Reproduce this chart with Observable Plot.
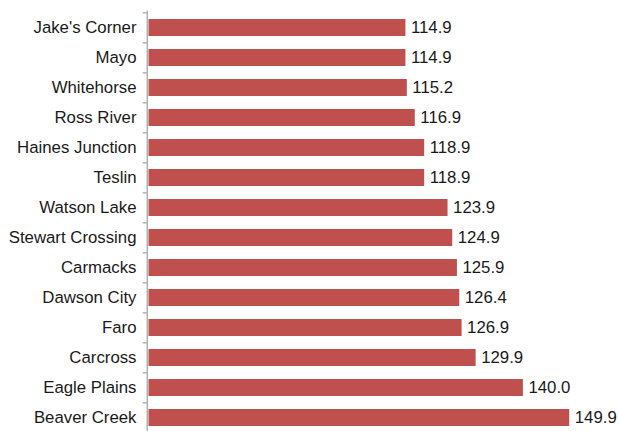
<!DOCTYPE html>
<html>
<head>
<meta charset="utf-8">
<script src="https://cdn.jsdelivr.net/npm/d3@7"></script>
<script src="https://cdn.jsdelivr.net/npm/@observablehq/plot@0.6"></script>
<style>
  html, body { margin: 0; padding: 0; background: #fff; overflow: hidden; }
</style>
</head>
<body>
<div id="chart"></div>
<script>
const communities = ["Jake's Corner", "Mayo", "Whitehorse", "Ross River", "Haines Junction", "Teslin", "Watson Lake", "Stewart Crossing", "Carmacks", "Dawson City", "Faro", "Carcross", "Eagle Plains", "Beaver Creek"];
const prices = [114.9, 114.9, 115.2, 116.9, 118.9, 118.9, 123.9, 124.9, 125.9, 126.4, 126.9, 129.9, 140.0, 149.9];
const xDomain = [60, 160];

const data = communities.map((c, i) => ({community: c, price: prices[i]}));

const font = "'Liberation Sans', Arial, Helvetica, sans-serif";
const H = 435, mTop = 10.7, mBottom = 0.8;
const step = (H - mTop - mBottom) / communities.length;
const fs = 16.8;

const chart = Plot.plot({
  width: 619,
  height: H,
  marginTop: mTop,
  marginBottom: mBottom,
  marginLeft: 148.5,
  marginRight: 2.5,
  style: {fontFamily: font, fontSize: fs + "px", color: "#1a1a1a", background: "#fff"},
  x: {domain: xDomain, axis: null},
  y: {domain: communities, paddingInner: 0.43, paddingOuter: 0.215, axis: null, label: null},
  marks: [
    Plot.barX(data, {x1: xDomain[0], x2: "price", y: "community", fill: "#c0504d"}),
    Plot.axisY({tickSize: 0, tickPadding: 12.5, fontSize: fs, fill: "#1a1a1a", label: null}),
    Plot.axisY({tickSize: 4, tickFormat: () => "", label: null, dy: -step / 2, dx: -1.8, stroke: "#8c8c8c"}),
    Plot.ruleX([xDomain[0]], {dx: -1.8, stroke: "#8c8c8c", strokeWidth: 1}),
    Plot.text(data, {x: "price", y: "community", text: d => d.price.toFixed(1), dx: 5, textAnchor: "start", fontSize: fs, fill: "#1a1a1a"})
  ]
});
document.getElementById("chart").appendChild(chart);
</script>
</body>
</html>
